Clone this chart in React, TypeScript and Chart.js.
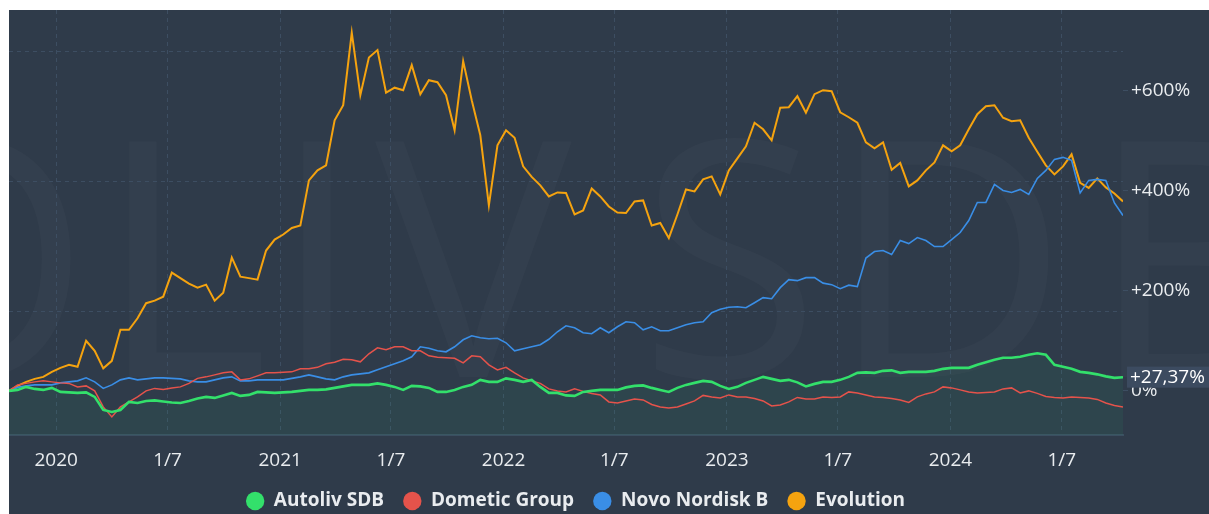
import React, { useEffect, useRef } from 'react';
import { Chart, registerables } from 'chart.js';

Chart.register(...registerables);

// ---- data (percent change since start) ----
const DATES = [
  '2019-10-16','2019-10-30','2019-11-13','2019-11-27','2019-12-11','2019-12-25',
  '2020-01-08','2020-01-22','2020-02-05','2020-02-19','2020-03-04','2020-03-18','2020-04-01','2020-04-15','2020-04-29','2020-05-13','2020-05-27','2020-06-10','2020-06-24','2020-07-08','2020-07-22','2020-08-05','2020-08-19','2020-09-02','2020-09-16','2020-09-30','2020-10-14','2020-10-28','2020-11-11','2020-11-25','2020-12-09','2020-12-23',
  '2021-01-06','2021-01-20','2021-02-03','2021-02-17','2021-03-03','2021-03-17','2021-03-31','2021-04-14','2021-04-28','2021-05-12','2021-05-26','2021-06-09','2021-06-23','2021-07-07','2021-07-21','2021-08-04','2021-08-18','2021-09-01','2021-09-15','2021-09-29','2021-10-13','2021-10-27','2021-11-10','2021-11-24','2021-12-08','2021-12-22',
  '2022-01-05','2022-01-19','2022-02-02','2022-02-16','2022-03-02','2022-03-16','2022-03-30','2022-04-13','2022-04-27','2022-05-11','2022-05-25','2022-06-08','2022-06-22','2022-07-06','2022-07-20','2022-08-03','2022-08-17','2022-08-31','2022-09-14','2022-09-28','2022-10-12','2022-10-26','2022-11-09','2022-11-23','2022-12-07','2022-12-21',
  '2023-01-04','2023-01-18','2023-02-01','2023-02-15','2023-03-01','2023-03-15','2023-03-29','2023-04-12','2023-04-26','2023-05-10','2023-05-24','2023-06-07','2023-06-21','2023-07-05','2023-07-19','2023-08-02','2023-08-16','2023-08-30','2023-09-13','2023-09-27','2023-10-11','2023-10-25','2023-11-08','2023-11-22','2023-12-06','2023-12-20',
  '2024-01-03','2024-01-17','2024-01-31','2024-02-14','2024-02-28','2024-03-13','2024-03-27','2024-04-10','2024-04-24','2024-05-08','2024-05-22','2024-06-05','2024-06-19','2024-07-03','2024-07-17','2024-07-31','2024-08-14','2024-08-28','2024-09-11','2024-09-25','2024-10-09',
];

const AUTOLIV = [
  0, 2, 8, 4, 2, 6, -2, -3, -4, -3,
  -12, -38, -42, -38, -22, -24, -20, -19, -21, -23,
  -24, -20, -15, -12, -14, -9, -4, -10, -8, -2,
  -3, -4, -3, -2, 0, 2, 2, 3, 6, 9,
  12, 12, 12, 15, 12, 8, 2, 10, 9, 6,
  -2, -2, 2, 8, 12, 22, 18, 18, 25, 22,
  18, 22, 8, -4, -4, -9, -10, -2, 0, 2,
  2, 2, 7, 10, 11, 6, 2, -2, 6, 12,
  16, 20, 18, 10, 4, 8, 16, 22, 28, 24,
  20, 22, 17, 9, 14, 18, 18, 22, 28, 36,
  37, 36, 40, 41, 36, 38, 38, 38, 40, 44,
  46, 46, 46, 52, 57, 62, 66, 66, 68, 72,
  75, 72, 52, 48, 44, 38, 36, 33, 29, 26,
  27.37,
];

const DOMETIC = [
  0, 12, 15, 18, 20, 18, 16, 15, 8, 10,
  0, -32, -52, -32, -22, -12, 0, 5, 3, 6,
  8, 15, 25, 28, 32, 36, 38, 22, 24, 30,
  36, 36, 37, 38, 44, 44, 47, 54, 57, 63,
  62, 58, 74, 86, 82, 88, 88, 80, 80, 70,
  67, 66, 65, 56, 70, 68, 52, 42, 47, 36,
  26, 20, 15, 4, 0, -2, 4, -1, -5, -8,
  -22, -24, -20, -16, -18, -27, -32, -34, -32, -26,
  -20, -9, -12, -14, -8, -12, -12, -15, -20, -30,
  -28, -22, -13, -16, -16, -12, -13, -12, -2, -4,
  -8, -12, -13, -15, -18, -23, -12, -6, -2, 8,
  6, 2, -2, -4, -3, -2, 4, 6, -4, 0,
  -5, -11, -13, -14, -12, -13, -14, -17, -24, -29,
  -32,
];

const NOVO = [
  0, 7, 10, 12, 12, 12, 16, 18, 20, 26,
  18, 5, 12, 22, 26, 22, 24, 26, 26, 25,
  24, 20, 18, 18, 22, 26, 28, 20, 20, 22,
  22, 22, 22, 25, 28, 32, 28, 24, 22, 28,
  32, 34, 36, 42, 48, 54, 60, 68, 88, 85,
  80, 78, 88, 102, 110, 106, 104, 105, 96, 80,
  84, 88, 92, 103, 118, 130, 126, 116, 114, 126,
  116, 128, 138, 136, 122, 128, 120, 120, 126, 132,
  136, 138, 156, 163, 167, 168, 166, 176, 186, 184,
  206, 222, 220, 226, 226, 215, 212, 204, 211, 208,
  265, 278, 280, 272, 300, 294, 306, 300, 288, 288,
  302, 316, 340, 376, 376, 412, 400, 396, 402, 392,
  424, 440, 462, 466, 460, 395, 420, 422, 420, 375,
  350,
];

const EVOLUTION = [
  0, 10, 18, 24, 28, 38, 46, 52, 48, 100,
  80, 45, 60, 122, 122, 145, 175, 180, 188, 236,
  225, 214, 206, 212, 180, 196, 266, 228, 225, 222,
  280, 302, 312, 325, 330, 420, 440, 450, 540, 570,
  715, 590, 665, 680, 595, 605, 600, 650, 592, 620,
  616, 590, 520, 658, 580, 510, 370, 490, 520, 505,
  448, 427, 410, 388, 396, 395, 352, 360, 404, 388,
  368, 356, 355, 378, 380, 330, 335, 305, 352, 402,
  398, 422, 428, 392, 440, 464, 488, 535, 522, 500,
  565, 566, 588, 555, 592, 600, 598, 556, 546, 535,
  496, 484, 496, 441, 455, 408, 420, 440, 456, 490,
  478, 490, 522, 552, 568, 570, 545, 538, 540, 505,
  477, 450, 432, 448, 472, 415, 405, 424, 406, 394,
  378,
];

const SERIES_NAMES = ['Autoliv SDB', 'Dometic Group', 'Novo Nordisk B', 'Evolution'];
const X_TICK_DATES = ['2020-01-01', '2020-07-01', '2021-01-01', '2021-07-01', '2022-01-01', '2022-07-01', '2023-01-01', '2023-07-01', '2024-01-01', '2024-07-01'];
const X_TICK_LABELS = ['2020', '1/7', '2021', '1/7', '2022', '1/7', '2023', '1/7', '2024', '1/7'];
const Y_TICKS = [0, 200, 400, 600];
const Y_TICK_LABELS = ['0%', '+200%', '+400%', '+600%'];
const GRID_VALUES = [159, 418, 677];
const LAST_LABEL = '+27,37%';
const WATERMARK_LETTERS = ['O', 'L', 'I', 'V', 'S', 'D', 'B'];

// ---- styling ----
const BG = '#2f3b4a';
const GRID = '#3d4e62';
const AXIS_LINE = '#3b4f61';
const TEXT = '#e9ecef';
const FONT = 'Open Sans';
const COLORS = ['#33e06b', '#e5534b', '#3a8ee6', '#f5a30f'];
const WIDTHS = [2.6, 1.5, 1.6, 2];
const WATERMARK_X = [-175, 88, 262, 366, 630, 820, 1080];
const PLOT_BOTTOM = 425;
const LEGEND_H = 30;
const LEGEND_CENTER = { x: 566.5, y: 491 };

const EPOCH = Date.UTC(2020, 0, 1);
const toDay = (s: string) => (Date.parse(s + 'T00:00:00Z') - EPOCH) / 86400000;

const watermarkPlugin = {
  id: 'watermark',
  beforeDraw(chart: any) {
    const { ctx } = chart;
    ctx.save();
    ctx.fillStyle = 'rgba(255,255,255,0.022)';
    ctx.font = `normal 330px "${FONT}"`;
    ctx.textBaseline = 'alphabetic';
    WATERMARK_LETTERS.forEach((ch, i) => {
      ctx.fillText(ch, WATERMARK_X[i], 367);
    });
    ctx.restore();
  },
};

const legendShiftPlugin = {
  id: 'legendShift',
  afterLayout(chart: any) {
    const lg = chart.legend;
    if (!lg || !lg.lineWidths) return;
    const pad = lg.options.labels.padding;
    const fs = lg.options.labels.font.size;
    const lw = lg.lineWidths[0];
    const startX = (lg.left + pad + lg.right - lw) / 2;
    const center = startX + (lw - pad) / 2;
    const dx = LEGEND_CENTER.x - center;
    const dy = LEGEND_CENTER.y - (lg.top + pad + fs / 2);
    lg.left += dx; lg.right += dx; lg.top += dy;
    lg.bottom = chart.height;
    lg.height = lg.bottom - lg.top;
  },
};

const lastValuePlugin = {
  id: 'lastValue',
  afterDraw(chart: any) {
    const { ctx, chartArea } = chart;
    const y = chart.scales.y.getPixelForValue(AUTOLIV[AUTOLIV.length - 1]);
    ctx.save();
    ctx.fillStyle = '#3c4b60';
    ctx.fillRect(chartArea.right + 4, y - 10.5, 82, 21);
    ctx.fillStyle = '#ffffff';
    ctx.font = `19px "${FONT}"`;
    ctx.textBaseline = 'middle';
    ctx.textAlign = 'left';
    ctx.fillText(LAST_LABEL, chartArea.right + 7, y);
    ctx.restore();
  },
};

export default function App() {
  const ref = useRef<HTMLCanvasElement>(null);

  useEffect(() => {
    if (!ref.current) return;
    const series = [AUTOLIV, DOMETIC, NOVO, EVOLUTION];
    const datasets = series.map((vals, si) => ({
      label: SERIES_NAMES[si],
      data: vals.map((v, i) => ({ x: toDay(DATES[i]), y: v })),
      borderColor: COLORS[si],
      backgroundColor: si === 0 ? 'rgba(46, 204, 113, 0.065)' : COLORS[si],
      borderWidth: WIDTHS[si],
      pointRadius: 0,
      tension: 0,
      fill: si === 0 ? 'start' : false,
      yAxisID: 'y',
    }));

    const noVPad = (s: any) => { s.paddingTop = 0; s.paddingBottom = 0; };

    const chart = new Chart(ref.current, {
      type: 'line',
      data: { datasets },
      plugins: [watermarkPlugin, legendShiftPlugin, lastValuePlugin],
      options: {
        animation: false,
        responsive: true,
        maintainAspectRatio: false,
        layout: { padding: 0 },
        events: [],
        plugins: {
          tooltip: { enabled: false },
          filler: { drawTime: 'beforeDatasetsDraw' },
          legend: {
            position: 'bottom',
            maxHeight: LEGEND_H,
            labels: {
              usePointStyle: true,
              pointStyle: 'circle',
              boxHeight: 13,
              pointStyleWidth: 18.4,
              padding: 19,
              color: TEXT,
              font: { family: FONT, size: 19, weight: 'bold' },
              generateLabels: (c: any) =>
                c.data.datasets.map((ds: any, i: number) => ({
                  text: ds.label,
                  fillStyle: COLORS[i],
                  strokeStyle: COLORS[i],
                  lineWidth: 0,
                  pointStyle: 'circle',
                  hidden: false,
                  datasetIndex: i,
                  fontColor: TEXT,
                })),
            },
          },
        },
        scales: {
          x: {
            type: 'linear',
            min: toDay(DATES[0]),
            max: toDay(DATES[DATES.length - 1]),
            afterBuildTicks: (s: any) => {
              s.ticks = X_TICK_DATES.map((d) => ({ value: toDay(d) }));
            },
            afterFit: (s: any) => {
              s.height = s.chart.height - LEGEND_H - PLOT_BOTTOM;
              s.paddingLeft = 0; s.paddingRight = 0;
            },
            ticks: {
              autoSkip: false,
              maxRotation: 0,
              padding: 14,
              color: TEXT,
              font: { family: FONT, size: 19 },
              callback: (_v: any, i: number) => X_TICK_LABELS[i],
            },
            grid: { color: GRID, drawTicks: false, lineWidth: 1 },
            border: { display: true, color: AXIS_LINE, width: 2, dash: [4, 4] },
          },
          y: {
            position: 'right',
            min: -88,
            max: 760,
            afterBuildTicks: (s: any) => {
              s.ticks = Y_TICKS.map((v) => ({ value: v }));
            },
            afterFit: (s: any) => { s.width = 86; noVPad(s); },
            ticks: {
              padding: 3,
              color: TEXT,
              font: { family: FONT, size: 19 },
              callback: (_v: any, i: number) => Y_TICK_LABELS[i],
            },
            grid: { drawOnChartArea: false, drawTicks: true, tickLength: 5, tickColor: GRID },
            border: { display: false },
          },
          yg: {
            position: 'left',
            min: -88,
            max: 760,
            afterBuildTicks: (s: any) => {
              s.ticks = GRID_VALUES.map((v) => ({ value: v }));
            },
            afterFit: (s: any) => { s.width = 0; noVPad(s); },
            ticks: { display: false },
            grid: { color: GRID, drawTicks: false, lineWidth: 1 },
            border: { display: false, dash: [4, 4] },
          },
        },
      } as any,
    });
    return () => chart.destroy();
  }, []);

  return (
    <div style={{ position: 'fixed', left: 9, top: 10, width: 1200, height: 504, background: BG }}>
      <canvas ref={ref} />
    </div>
  );
}
